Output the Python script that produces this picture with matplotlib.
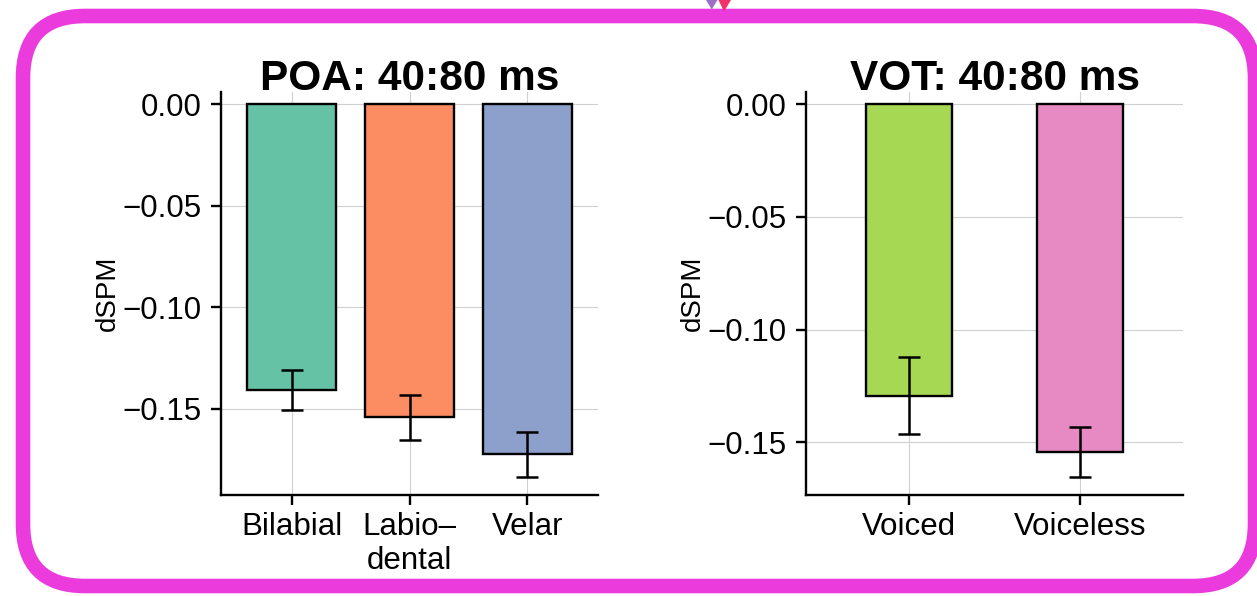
import matplotlib
matplotlib.use("Agg")
import matplotlib.pyplot as plt
from matplotlib.patches import FancyBboxPatch, Polygon
from matplotlib.transforms import IdentityTransform

plt.rcParams['font.family'] = ['Liberation Sans', 'DejaVu Sans']

# ---- data ----
poa_categories = ["Bilabial", "Labio\u2013\ndental", "Velar"]
poa_means = [-0.1408, -0.1543, -0.1726]
poa_sem = [0.0098, 0.0110, 0.0112]
poa_colors = ["#66c2a5", "#fc8d62", "#8da0cb"]

vot_categories = ["Voiced", "Voiceless"]
vot_means = [-0.1295, -0.1543]
vot_sem = [0.0171, 0.0110]
vot_colors = ["#a6d854", "#e78ac3"]

poa_yticks = [0.0, -0.05, -0.10, -0.15]
vot_yticks = [0.0, -0.05, -0.10, -0.15]

W, H = 1257, 596
fig = plt.figure(figsize=(W / 100, H / 100), dpi=100)

def make_panel(rect, cats, means, sems, colors, width, xlim, ylim, yticks, title):
    ax = fig.add_axes(rect)
    x = list(range(len(cats)))
    ax.set_axisbelow(True)
    ax.bar(x, means, width=width, color=colors, edgecolor="black", linewidth=1.7, zorder=2)
    ax.errorbar(x, means, yerr=sems, fmt="none", ecolor="black", elinewidth=1.8,
                capsize=8, capthick=1.8, zorder=3)
    ax.set_xlim(*xlim)
    ax.set_ylim(*ylim)
    ax.set_xticks(x)
    ax.set_xticklabels(cats, fontsize=22.5, linespacing=1.15)
    ax.set_yticks(yticks)
    ax.set_yticklabels([("%.2f" % v).replace("-", "\u2212") if v != 0 else "0.00" for v in yticks],
                       fontsize=22.5)
    ax.grid(True, color="#d0d0d0", linewidth=0.8)
    for s in ["top", "right"]:
        ax.spines[s].set_visible(False)
    for s in ["left", "bottom"]:
        ax.spines[s].set_linewidth(1.7)
    ax.tick_params(axis="both", length=7, width=1.7, color="black")
    ax.tick_params(axis="x", pad=5.5)
    ax.tick_params(axis="y", pad=7)
    ax.set_ylabel("dSPM", fontsize=20, va="center")
    ax.yaxis.set_label_coords(-0.30, 0.5)
    ax.set_title(title, fontsize=30.5, fontweight="bold", y=1.0, pad=1.8)
    return ax

bottom = (H - 495) / H
height = 403 / H
make_panel([221 / W, bottom, 377 / W, height], poa_categories, poa_means, poa_sem,
           poa_colors, 0.755, (-0.6, 2.6), (-0.1926, 0.006), poa_yticks, "POA: 40:80 ms")
make_panel([806 / W, bottom, 377 / W, height], vot_categories, vot_means, vot_sem,
           vot_colors, 0.5, (-0.6, 1.6), (-0.1735, 0.0055), vot_yticks, "VOT: 40:80 ms")

# decorative magenta rounded frame (pixel coordinates)
frame = FancyBboxPatch((23, 10), 1232, 570, boxstyle="round,pad=0,rounding_size=62",
                       transform=IdentityTransform(), facecolor="none",
                       edgecolor="#ec3bdc", linewidth=10.5, zorder=10)
fig.add_artist(frame)
fig.add_artist(Polygon([(706, 596), (717.5, 596), (711.7, 586.5)], closed=True,
                       transform=IdentityTransform(), facecolor="#9a70c8", edgecolor="none", zorder=11))
fig.add_artist(Polygon([(718.5, 596), (731, 596), (724, 584.5)], closed=True,
                       transform=IdentityTransform(), facecolor="#f2306a", edgecolor="none", zorder=11))

fig.savefig("out.png", dpi=100)
